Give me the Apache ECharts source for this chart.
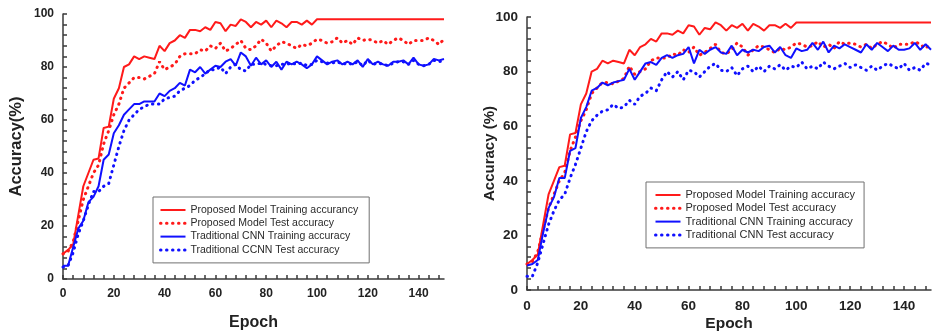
<!DOCTYPE html>
<html>
<head>
<meta charset="utf-8">
<script src="https://cdn.jsdelivr.net/npm/echarts@6/dist/echarts.min.js"></script>
<style>
html,body{margin:0;padding:0;background:#fff;}
#c{width:934px;height:331px;}
</style>
</head>
<body>
<div id="c"></div>
<script>
// Epoch values (x)
const epochs = [0,2,4,6,8,10,12,14,16,18,20,22,24,26,28,30,32,34,36,38,40,42,44,46,48,50,52,54,56,58,60,62,64,66,68,70,72,74,76,78,80,82,84,86,88,90,92,94,96,98,100,102,104,106,108,110,112,114,116,118,120,122,124,126,128,130,132,134,136,138,140,142,144,146,148,150];

// Proposed model (same curves in both panels)
const proposedTrain = [9.5,11,13,24,35,40,45,45.5,57,57.5,68,72,80,81,84,83,84,83.5,83,88,86,89,90,92,91,94,94,93.5,95,94,97,96.5,93.5,96,95.5,98,97,95,97,96,97.5,95,97.5,96.5,95,97,97,96,97.5,96,98,98,98,98,98,98,98,98,98,98,98,98,98,98,98,98,98,98,98,98,98,98,98,98,98,98];
const proposedTest = [9.5,10.5,14,22,30,35,40,43,51,56,62,66,72,74,76,76,75.5,76.5,77.5,82,79,80,81,84,85,85,85,86.5,86,88,87,89,86,87,88.5,90,87,86.5,88,90.5,89,86,88,89.5,89,88,87,88.5,88,89,90.5,90,89,89.5,91,89,90,88.5,91,90,90.5,90,89,90,88.5,90,91,90,88.5,90,90,90,91,90,88.5,90.5];

// Left panel: traditional CNN
const cnnTrainLeft = [5,5,12,19,22,29,31,35,45,47,55,58,62,64,66,66,67,67,67,70,69,71,72,74,73,79,78,80,77.5,79,80.5,80,82,83,80.5,85.5,84,80.5,83.5,81,82.5,80,82,79,82,81,82,81,79.5,81,84,82.5,81,82,82.5,81,82,81,82.5,80,83,81,82,81,80.5,82,82,82.5,81,83.5,81,80.5,81,83,82.5,83];
const cnnTestLeft = [4.5,5,10,17,22,28,33,33,35,36,43,50,56,60,62,64,65,66,66,66,68,68.5,69,71,72,73,75,76,77.5,79,79,80,77.5,80,81,79,78.5,81,81,81.5,81,80.5,80.5,81,81,81.5,81,81.5,80.5,81,82.5,82,81.5,81.5,82,81,81.5,81,82,80.5,82.5,81,81.5,81,80.5,81.5,82,82,81,82.5,81,80.5,81,82.5,82,82.5];

// Right panel: traditional CNN
const cnnTrainRight = [9,9.5,11,21,30,34,41,41,51,52,63,67,73,74,76,75,76,76.5,77,81,77,80,83,83.5,82.5,85,86,85,86,86.5,89,83,88,86.5,88,89,87,86.5,89.5,86,88,87,88,87.5,89,89.5,87,89,86,85,88.5,87.5,88,90.5,88,91,87,89.5,88.5,90,89,88,87,90,88,90.5,89,87.5,89.5,88,88,88.5,90.5,88,90,88];
const cnnTestRight = [5,5,10,17,24,29,33,35,41,46,52,58,62,64,65.5,66,68,66.5,67,69.5,68,71,72,74,73,77,80,78,80,77,80.5,80,78,80,82,83,80.5,80,81.5,78.5,81,82,80,82,80,82,81,82.5,80.5,82,81.5,83.5,81,82,81,83.5,82,81,82,83,81.5,82.5,81.5,80.5,82,80.5,82,83,82,81,83,80.5,81.5,80.5,83,82.5];

// Axis tick labels (ticks every 4 units, labels only on these)
const yTicks = [0,20,40,60,80,100];
const xTicks = [0,20,40,60,80,100,120,140];

const legendLeft = ['Proposed Model Training accurancy','Proposed Model Test accuracy','Traditional CNN Training accuracy','Traditional CCNN Test accuracy'];
const legendRight = ['Proposed Model Training accuracy','Proposed Model Test accuracy','Traditional CNN Training accuracy','Traditional CNN Test accuracy'];

const RED = '#ff1a1a', BLUE = '#1010ff';
const pair = arr => epochs.map((e,i) => [e, arr[i]]);

function axisCommon(fontSize){
  return {
    axisLine:{show:true,lineStyle:{color:'#3a3a3a',width:1.5}},
    axisTick:{show:true,inside:true,length:4,lineStyle:{color:'#3a3a3a',width:1.5}},
    splitLine:{show:false},
    nameMoveOverlap:false,
    axisLabel:{fontFamily:'Liberation Sans, Arial',fontWeight:'bold',fontSize:fontSize,color:'#222',margin:9,hideOverlap:false},
    nameTextStyle:{fontFamily:'Liberation Sans, Arial',fontWeight:'bold',color:'#222'}
  };
}

function xAx(idx, fontSize, nameSize, gap){
  const c = axisCommon(fontSize);
  return Object.assign(c,{type:'value',gridIndex:idx,min:0,max:150,interval:4,
    name:'Epoch',nameLocation:'middle',nameGap:gap,
    nameTextStyle:Object.assign({},c.nameTextStyle,{fontSize:nameSize}),
    axisLabel:Object.assign({},c.axisLabel,{showMaxLabel:false,interval:0,
      formatter: v => xTicks.indexOf(v) >= 0 ? String(v) : ''})});
}
function yAx(idx, fontSize, name, nameSize, gap){
  const c = axisCommon(fontSize);
  return Object.assign(c,{type:'value',gridIndex:idx,min:0,max:100,interval:4,
    name:name,nameLocation:'middle',nameGap:gap,nameRotate:90,
    nameTextStyle:Object.assign({},c.nameTextStyle,{fontSize:nameSize}),
    axisLabel:Object.assign({},c.axisLabel,{interval:0,
      formatter: v => yTicks.indexOf(v) >= 0 ? String(v) : ''})});
}

function mk(name, data, color, dotted, xi){
  return {
    type:'line', name:name, data:pair(data), xAxisIndex:xi, yAxisIndex:xi,
    symbol:'none', animation:false,
    lineStyle: dotted ? {color:color,width:3,type:[0.5,5.5],cap:'round'} : {color:color,width:2},
    itemStyle:{color:color}
  };
}

function legendCfg(data, left, top, fs, pad){
  return {
    data:data, orient:'vertical', left:left, top:top,
    itemWidth:25, itemHeight:12, itemGap:1.3,
    padding:pad, borderColor:'#707070', borderWidth:1, borderRadius:0,
    backgroundColor:'#fff',
    itemStyle:{opacity:0},
    lineStyle:{width:'inherit'},
    textStyle:{fontFamily:'Liberation Sans, Arial',fontSize:fs,color:'#2a2a2a',lineHeight:12},
    selectedMode:false
  };
}

const chart = echarts.init(document.getElementById('c'), null, {renderer:'canvas'});
chart.setOption({
  animation:false,
  backgroundColor:'#fff',
  grid:[
    {left:63,top:14,right:490,bottom:52,containLabel:false,outerBoundsMode:'none'},
    {left:527,top:17,right:3,bottom:41,containLabel:false,outerBoundsMode:'none'}
  ],
  xAxis:[ xAx(0,12,16,36), xAx(1,13.5,15.5,26) ],
  yAxis:[ yAx(0,12,'Accuracy(%)',16.5,38), yAx(1,13.5,'Accuracy (%)',15,30) ],
  legend:[
    legendCfg(legendLeft,153,197,10.5,[7,11,7,6]),
    legendCfg(legendRight,646,182,11,[7,9,7,8])
  ],
  series:[
    mk(legendLeft[0], proposedTrain, RED, false, 0),
    mk(legendLeft[1], proposedTest, RED, true, 0),
    mk(legendLeft[3], cnnTestLeft, BLUE, true, 0),
    mk(legendLeft[2], cnnTrainLeft, BLUE, false, 0),
    mk(legendRight[0], proposedTrain, RED, false, 1),
    mk(legendRight[1], proposedTest, RED, true, 1),
    mk(legendRight[3], cnnTestRight, BLUE, true, 1),
    mk(legendRight[2], cnnTrainRight, BLUE, false, 1)
  ]
});
</script>
</body>
</html>
